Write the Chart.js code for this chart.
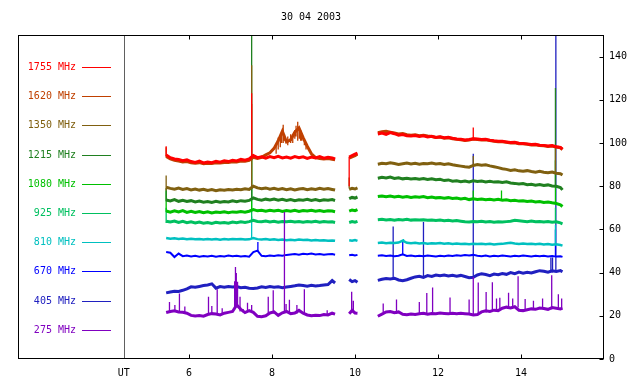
<!DOCTYPE html>
<html><head><meta charset="utf-8">
<script src="https://cdn.jsdelivr.net/npm/chart.js@4.4.1/dist/chart.umd.min.js"></script>
<style>html,body{margin:0;padding:0;background:#fff}</style>
</head><body>
<canvas id="c" width="640" height="384"></canvas>
<script>
const chartTitle = "30 04 2003";
const freqLabels = ["1755 MHz","1620 MHz","1350 MHz","1215 MHz","1080 MHz","925 MHz","810 MHz","670 MHz","405 MHz","275 MHz"];
const freqColors = ["#ff0000","#c04000","#806010","#208020","#00c000","#00c060","#00c0c0","#0000ff","#2020c0","#8000c0"];
const xTicks = [4.43, 6, 8, 10, 12, 14];
const xTickLabels = ["UT","6","8","10","12","14"];
const yTicks = [0,20,40,60,80,100,120,140];

const times = [
 5.45,5.55,5.65,5.75,5.85,5.95,6.05,6.15,6.25,6.35,
 6.45,6.55,6.65,6.75,6.85,6.95,7.05,7.15,7.25,7.35,
 7.45,7.55,7.65,7.75,7.85,7.95,8.05,8.15,8.25,8.35,
 8.45,8.55,8.65,8.75,8.85,8.95,9.05,9.15,9.25,9.35,
 9.45,9.52,
 9.7,
 9.86,9.93,10.0,10.06,
 10.3,
 10.55,10.65,10.75,10.85,10.95,11.05,11.15,11.25,11.35,11.45,
 11.55,11.65,11.75,11.85,11.95,12.05,12.15,12.25,12.35,12.45,
 12.55,12.65,12.75,12.85,12.95,13.05,13.15,13.25,13.35,13.45,
 13.55,13.65,13.75,13.85,13.95,14.05,14.15,14.25,14.35,14.45,
 14.55,14.65,14.75,14.85,14.95,15.0
];

const v1755 = [
 94.5,93.2,92.6,92.4,91.8,92.2,91.4,91.0,91.6,90.8,
 91.2,90.9,91.5,91.1,91.8,91.4,92.0,91.7,92.4,92.0,
 92.6,94.2,93.2,93.6,93.0,93.7,93.2,93.8,93.1,93.5,
 93.0,93.7,93.2,93.6,92.9,93.5,93.1,93.7,93.0,93.4,
 93.1,92.6,
 null,
 93.5,94.2,94.8,95.3,
 null,
 104.2,104.6,104.0,104.8,104.3,103.6,103.9,103.4,103.2,103.5,
 103.0,103.3,102.8,103.1,102.6,102.9,102.4,102.6,102.2,101.9,
 101.7,101.4,101.6,102.0,101.8,101.6,101.7,101.3,101.0,100.8,
 100.8,100.5,100.2,100.3,99.9,99.8,99.6,99.3,99.4,99.0,
 98.9,98.6,98.8,98.3,98.0,97.2
];
const v1620 = [
 93.8,92.6,92.0,91.6,91.2,91.4,90.8,90.6,90.9,90.4,
 90.6,90.5,90.8,90.7,91.0,91.0,91.3,91.2,91.6,91.5,
 92.0,93.4,92.8,93.4,94.5,95.5,97.5,101.0,105.5,100.5,
 101.5,105.0,107.0,102.5,98.5,95.0,93.2,92.8,92.6,92.8,
 92.5,92.2,
 null,
 93.0,93.6,94.2,94.8,
 null,
 104.8,105.2,105.4,105.0,104.6,104.2,104.4,103.8,103.6,103.8,
 103.4,103.6,103.2,103.0,102.6,102.8,102.2,102.4,102.0,101.7,
 101.5,101.2,101.4,101.8,101.6,101.4,101.5,101.1,100.8,100.6,
 100.6,100.3,100.0,100.1,99.7,99.6,99.4,99.1,99.2,98.8,
 98.7,98.4,98.6,98.1,97.8,97.0
];
const v1350 = [
 79.5,79.0,78.6,79.1,78.5,78.9,78.3,78.7,78.2,78.6,
 78.0,78.4,77.9,78.3,78.1,78.5,78.2,78.6,78.4,78.8,
 78.5,80.0,79.2,78.8,79.2,78.6,79.0,78.5,78.9,78.4,
 78.8,78.3,78.7,78.9,78.4,78.8,78.5,79.0,78.6,78.9,
 78.5,78.2,
 null,
 78.5,79.0,78.7,79.2,
 null,
 90.2,90.6,90.4,90.8,90.5,90.1,90.4,90.7,90.3,90.6,
 90.2,90.5,90.4,90.7,90.3,90.5,90.1,90.4,89.9,89.6,
 89.3,89.0,88.8,89.6,90.0,89.7,89.9,89.4,89.0,88.6,
 88.1,87.8,87.3,87.6,87.1,86.9,87.2,86.8,86.5,86.9,
 86.5,86.2,86.6,86.0,85.8,85.2
];
const v1215 = [
 73.6,73.2,73.8,73.0,73.5,72.9,73.3,72.7,73.1,72.6,
 72.9,72.5,73.0,72.6,72.9,72.7,73.2,72.8,73.3,73.0,
 73.4,74.6,73.9,73.5,74.0,73.6,74.1,73.5,73.9,73.4,
 73.8,73.3,73.7,73.5,73.9,73.4,73.8,73.3,73.7,73.5,
 73.8,73.4,
 null,
 74.2,74.8,74.5,75.0,
 null,
 83.7,84.1,83.8,84.2,83.6,83.9,83.4,83.7,83.3,83.6,
 83.2,83.5,83.1,83.4,83.0,83.2,82.6,82.9,82.3,82.5,
 82.1,82.4,82.0,82.5,82.2,82.4,82.0,82.3,81.9,82.1,
 81.7,82.0,81.5,81.3,81.0,81.2,80.7,80.9,80.5,80.8,
 80.3,80.6,80.1,80.0,79.4,78.3
];
const v1080 = [
 68.5,68.0,68.6,68.1,68.7,67.9,68.4,67.8,68.3,67.7,
 68.1,67.6,68.0,67.8,68.2,67.7,68.1,67.9,68.3,68.0,
 68.4,69.2,68.6,68.9,68.4,68.8,68.5,68.9,68.3,68.7,
 68.4,68.8,68.3,68.7,68.5,68.9,68.4,68.7,68.3,68.6,
 68.5,68.2,
 null,
 68.5,69.0,68.7,69.2,
 null,
 75.2,75.5,75.1,75.4,75.0,75.3,74.9,75.2,74.8,75.1,
 74.9,75.2,74.7,75.0,74.6,74.8,74.4,74.7,74.3,74.5,
 74.1,74.4,73.8,74.2,73.9,74.1,73.7,74.0,73.6,73.9,
 73.5,73.7,73.3,73.5,73.1,73.3,72.9,73.1,72.7,72.9,
 72.5,72.7,72.3,72.0,71.4,70.6
];
const v925 = [
 63.8,63.4,63.9,63.2,63.7,63.1,63.5,63.0,63.4,62.9,
 63.2,62.8,63.3,63.0,63.2,62.9,63.4,63.1,63.5,63.2,
 63.6,64.2,63.7,63.5,63.9,63.4,63.8,63.3,63.7,63.5,
 63.8,63.4,63.7,63.3,63.6,63.4,63.8,63.3,63.6,63.4,
 63.5,63.2,
 null,
 63.2,63.6,63.3,63.7,
 null,
 64.5,64.7,64.4,64.6,64.3,64.6,64.4,64.7,64.3,64.5,
 64.3,64.5,64.2,64.4,64.1,64.3,64.0,64.2,63.9,64.1,
 63.8,63.5,63.4,63.7,63.5,63.8,63.4,63.6,63.3,63.5,
 63.4,63.6,63.8,64.2,64.0,63.8,63.6,63.9,63.5,63.7,
 63.4,63.6,63.3,63.5,63.0,62.6
];
const v810 = [
 56.0,55.7,55.9,55.6,55.8,55.5,55.7,55.4,55.6,55.3,
 55.5,55.3,55.6,55.2,55.5,55.3,55.6,55.4,55.5,55.3,
 55.4,56.0,55.5,55.3,55.5,55.2,55.4,55.1,55.3,55.0,
 55.2,55.0,55.3,55.1,55.2,54.9,55.1,54.9,55.0,54.8,
 54.9,54.7,
 null,
 55.0,54.8,55.1,54.7,
 null,
 53.7,53.9,53.6,53.8,53.7,53.9,54.8,53.8,53.6,53.8,
 53.5,53.7,53.4,53.6,53.5,53.7,53.4,53.6,53.3,53.5,
 53.2,53.4,53.1,53.3,53.2,53.4,53.1,53.3,53.0,53.2,
 53.3,53.6,53.8,53.5,53.3,53.5,53.2,53.4,53.1,53.3,
 53.0,53.2,52.9,53.1,52.8,52.5
];
const v670 = [
 49.5,49.2,47.2,48.8,47.6,47.9,47.5,47.8,47.4,47.7,
 47.5,47.8,47.4,47.7,47.5,47.9,47.6,47.8,47.5,47.7,
 47.4,49.5,50.2,47.8,47.6,47.9,47.7,48.0,47.8,48.2,
 48.4,48.6,48.3,48.7,48.5,48.8,48.4,48.6,48.3,48.5,
 48.6,48.3,
 null,
 48.0,48.3,47.9,48.2,
 null,
 47.8,48.0,47.7,47.9,47.6,47.8,48.5,47.7,47.9,47.6,
 47.8,47.6,47.9,47.7,47.5,47.8,47.6,47.9,47.7,48.0,
 47.8,48.1,47.9,48.2,47.8,47.6,47.9,47.5,47.8,47.6,
 47.9,47.7,47.5,47.8,47.6,47.9,47.7,47.5,47.8,47.6,
 47.8,47.5,47.7,47.4,47.6,47.3
];
const v405 = [
 30.6,31.0,31.4,31.3,31.8,32.5,33.4,33.2,33.6,34.0,
 34.3,34.8,32.8,33.5,33.2,33.6,33.3,33.5,33.0,33.2,
 32.8,32.6,32.9,33.4,33.1,33.5,33.2,33.4,33.0,33.3,
 33.6,33.9,34.3,34.0,33.7,34.1,33.8,34.0,34.3,34.5,
 36.3,35.2,
 null,
 36.8,35.8,36.3,35.5,
 null,
 36.4,36.9,37.3,37.0,37.4,36.6,36.2,36.7,37.4,38.0,
 38.3,37.8,38.6,38.2,38.9,38.5,38.9,38.4,38.8,38.3,
 38.7,38.2,37.6,37.8,38.9,39.5,39.1,38.6,39.3,39.0,
 39.6,39.2,40.0,39.5,40.2,39.7,40.1,39.8,40.4,40.9,
 40.6,40.2,40.8,40.5,40.9,40.4
];
const v275 = [
 21.5,22.0,22.3,21.8,21.6,21.2,20.2,19.9,20.1,19.8,
 20.6,21.0,20.8,20.4,21.2,21.6,22.0,25.0,23.0,21.5,
 22.4,21.6,19.8,19.6,20.0,21.3,21.8,20.2,21.4,22.0,
 21.0,21.3,22.5,21.2,20.4,20.0,20.3,20.1,20.6,20.4,
 21.2,20.8,
 null,
 21.0,22.5,21.3,21.2,
 null,
 19.8,20.8,21.8,22.0,21.4,21.8,20.7,20.5,20.8,20.6,
 20.9,21.2,20.7,21.1,21.0,21.3,21.1,20.9,21.2,21.0,
 21.2,21.0,20.8,20.4,20.6,21.8,22.3,22.0,22.6,22.4,
 23.5,24.0,23.6,24.2,22.6,22.4,22.8,23.2,23.0,23.6,
 23.4,23.0,23.8,23.5,23.2,23.6
];

// spikes: [time, base, peak]
const s1755 = [[5.45,94,98.5],[7.51,93,123],[9.86,93.5,80],[12.85,101.8,107.2]];
const s1620 = [[5.45,93.5,98],[7.51,92,118],[8.1,95,99],[8.15,97,102.5],[8.2,98,103],[8.23,100,105],
 [8.27,100,108.5],[8.3,101,104],[8.38,99,103],[8.45,100,104],[8.5,100,103],[8.55,102,106],[8.58,103,108],
 [8.62,101,109.8],[8.66,102,107],[8.69,101,106],[8.72,101,104.5],[8.78,99,102],[8.82,97,100]];
const s1350 = [[5.45,78,85],[7.51,79,136],[9.86,79,84],[12.85,89,94],[14.83,86,98]];
const s1215 = [[5.45,73,79],[7.51,74,160],[14.83,80,125.5]];
const s1080 = [[5.45,68,78],[7.51,69,95],[12.85,74,78],[13.53,73.5,78],[14.83,72,92]];
const s925 = [[5.45,63,70],[7.51,64,80],[14.83,63,70]];
const s810 = [[7.51,55.5,66],[11.17,54,55.5],[14.83,53,62]];
const s670 = [[7.66,49.5,54.2],[11.15,48,55],[14.83,47.5,60]];
const s405 = [[10.92,37,61.4],[11.65,38,63.4],[12.85,37.5,95],[14.72,40,47],[14.76,40,47],[14.84,40.5,160]];
const s275 = [[5.53,22,26.4],[5.66,22,25],[5.77,21.8,30.3],[5.9,21.5,24.3],[6.47,20.5,28.8],[6.55,20.8,24.5],
 [6.68,20.8,32.3],[6.8,20.5,23.5],[7.1,23,36],[7.12,24,42.6],[7.14,24,39.8],[7.17,24,35.8],[7.23,22,28.8],
 [7.31,21.5,23],[7.41,22,26],[7.51,21.5,25],[7.91,21,28.8],[8.03,21,31.8],[8.3,21.5,68],[8.34,21.5,25.5],
 [8.42,21.5,27.4],[8.6,21,25],[8.78,21,32.3],[9.33,20.5,22.6],[9.92,21.5,31.1],[9.96,21.5,27],
 [10.68,21.8,25.7],[11.0,21,27.5],[11.55,21,26.4],[11.73,21,30.6],[11.87,21,33.1],[12.29,21,28.5],
 [12.75,21,27.5],[12.85,20.8,38],[12.97,20.5,35.4],[13.16,21.5,31],[13.31,22,35.5],[13.41,22.3,28],
 [13.49,22.5,28.3],[13.7,23.8,30.7],[13.8,23.8,28],[13.93,23.8,38.3],[14.1,22.8,27.8],[14.3,23,27],
 [14.52,23.5,28],[14.74,23,38.8],[14.9,23.4,30],[14.98,23.4,28]];

const seriesValues = [v1755,v1620,v1350,v1215,v1080,v925,v810,v670,v405,v275];
const seriesSpikes = [s1755,s1620,s1350,s1215,s1080,s925,s810,s670,s405,s275];
const lineWidths = [3,3,3,3,3,3,2.5,2,3,3];
// stacking: index 0 drawn on top
const drawOrder = [9,0,1,2,3,4,5,6,7,8];

function linePoints(vals){ return times.map((t,i)=>({x:t, y:vals[i]})); }
function spikePoints(spikes){
  const pts = [];
  spikes.forEach(s=>{ pts.push({x:s[0],y:s[1]},{x:s[0],y:s[2]},{x:s[0],y:null}); });
  return pts;
}

const FONT = "'DejaVu Sans Mono', 'Liberation Mono', monospace";
const datasets = [];
drawOrder.forEach(k=>{
  datasets.push({
    label: freqLabels[k] + ' spikes',
    data: spikePoints(seriesSpikes[k]),
    borderColor: freqColors[k], backgroundColor: freqColors[k],
    borderWidth: 1.3, pointRadius: 0, tension: 0, spanGaps: false, fill: false
  });
  datasets.push({
    label: freqLabels[k],
    data: linePoints(seriesValues[k]),
    borderColor: freqColors[k], backgroundColor: freqColors[k],
    borderWidth: lineWidths[k], borderJoinStyle: 'miter',
    pointRadius: 0, tension: 0, spanGaps: false, fill: false
  });
});

const framePlugin = {
  id: 'frame',
  afterDraw(chart){
    const ctx = chart.ctx, a = chart.chartArea;
    const xs = chart.scales.x, ys = chart.scales.y;
    ctx.save();
    // legend
    ctx.font = "10px " + FONT;
    ctx.textAlign = 'right'; ctx.textBaseline = 'middle';
    freqLabels.forEach((lab,i)=>{
      const y = Math.round(67 + i*29.2) + 0.5;
      ctx.fillStyle = freqColors[i];
      ctx.fillText(lab, 76, y);
      ctx.strokeStyle = freqColors[i]; ctx.lineWidth = 1;
      ctx.beginPath(); ctx.moveTo(82, y); ctx.lineTo(111, y); ctx.stroke();
    });
    // separator line at UT
    const ux = Math.round(xs.getPixelForValue(xTicks[0])) + 0.5;
    ctx.strokeStyle = '#606060'; ctx.lineWidth = 1;
    ctx.beginPath(); ctx.moveTo(ux, a.top); ctx.lineTo(ux, a.bottom); ctx.stroke();
    // frame
    ctx.strokeStyle = '#000'; ctx.lineWidth = 1;
    const L = Math.round(a.left)+0.5, R = Math.round(a.right)-0.5, T = Math.round(a.top)+0.5, B = Math.round(a.bottom)-0.5;
    ctx.strokeRect(L, T, R-L, B-T);
    // ticks
    ctx.beginPath();
    xTicks.slice(1).forEach(v=>{
      const px = Math.round(xs.getPixelForValue(v)) + 0.5;
      ctx.moveTo(px, T); ctx.lineTo(px, T+4);
      ctx.moveTo(px, B); ctx.lineTo(px, B-4);
    });
    yTicks.forEach(v=>{
      const py = Math.round(ys.getPixelForValue(v)) + 0.5;
      ctx.moveTo(R, py); ctx.lineTo(R-4, py);
    });
    ctx.stroke();
    ctx.restore();
  }
};

new Chart(document.getElementById('c'), {
  type: 'line',
  data: { datasets },
  options: {
    responsive: false,
    animation: false,
    devicePixelRatio: 1,
    layout: { padding: { left: 18, right: 0, top: 0, bottom: 0 } },
    plugins: {
      legend: { display: false },
      tooltip: { enabled: false },
      title: { display: true, text: chartTitle, color: '#000', fullSize: false,
               font: { family: FONT, size: 10, weight: 'normal', lineHeight: 1.2 },
               padding: { top: 11, bottom: 12 } }
    },
    scales: {
      x: {
        type: 'linear', position: 'bottom', min: 1.88, max: 16,
        grid: { display: false, drawTicks: false }, border: { display: false },
        afterBuildTicks: s => { s.ticks = xTicks.map(v=>({value:v})); },
        afterFit: s => { s.height = 25; },
        ticks: { autoSkip: false, maxRotation: 0, padding: 8, color: '#000',
                 font: { family: FONT, size: 10 },
                 callback: (v) => { const i = xTicks.indexOf(v); return i >= 0 ? xTickLabels[i] : ''; } }
      },
      y: {
        type: 'linear', position: 'right', min: 0, max: 150,
        grid: { display: false, drawTicks: false }, border: { display: false },
        afterBuildTicks: s => { s.ticks = yTicks.map(v=>({value:v})); },
        afterFit: s => { s.width = 36; },
        ticks: { padding: 5, color: '#000', font: { family: FONT, size: 10 } }
      }
    }
  },
  plugins: [framePlugin]
});
</script>
</body></html>
